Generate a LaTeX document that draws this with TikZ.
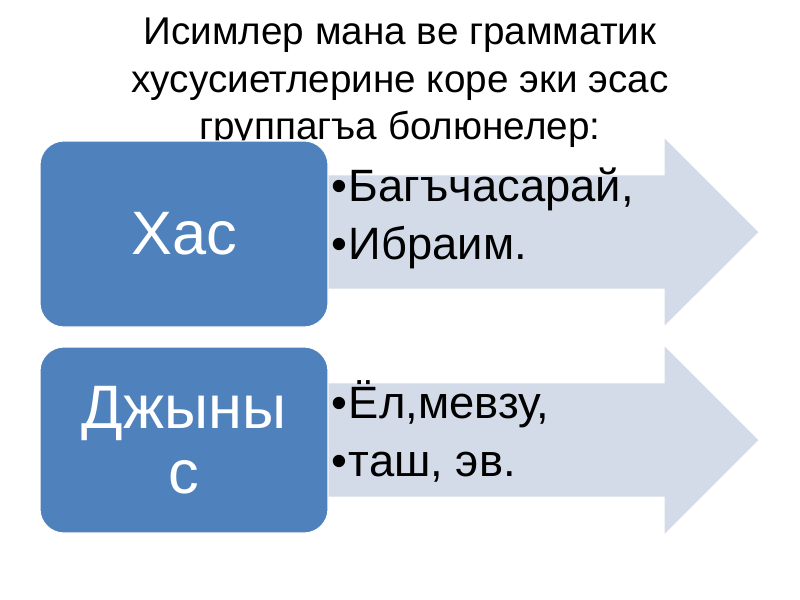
\documentclass[tikz,border=0pt]{standalone}
\usepackage{fontspec}
\setmainfont{Liberation Sans}
\usepackage{tikz}
\usetikzlibrary{shapes.arrows, positioning}
\definecolor{BoxBlue}{HTML}{4F81BD}
\definecolor{ArrowGrey}{HTML}{D3DAE8}

\begin{document}
\begin{tikzpicture}[
  x=0.75pt, y=-0.75pt,
  title/.style={align=center, font=\fontsize{29}{35.5}\selectfont},
  group/.style={
    draw=white, line width=0.8pt, fill=BoxBlue, rounded corners=18pt,
    minimum width=216pt, minimum height=139.5pt,
    text=white, align=center, font=\fontsize{46}{49}\selectfont
  },
  flow/.style={
    single arrow, fill=ArrowGrey, draw=white, line width=0.8pt,
    inner xsep=0pt, inner ysep=42.4pt, single arrow head extend=28.5pt,
    minimum height=432pt, anchor=tip
  },
  items/.style={anchor=west, align=left, font=\fontsize{34}{43.5}\selectfont}
]
\useasboundingbox (0,0) rectangle (800,600);

% Title
\node[title] (head) at (400,83) {Исимлер мана ве грамматик\\хусусиетлерине коре эки эсас\\группагъа болюнелер:};

% Arrows
\node[flow] (proper) at (760,232) {};
\node[flow] (common) at (760,440) {};

% Boxes
\node[group] (xas) at (184,234) {Хас};
\node[group] (dzhyn) at (184,440) {Джыны\\с};

% Examples
\node[items] (xaslist) at (327,218) {•\hspace{1pt}Багъчасарай,\\•\hspace{1pt}Ибраим.};
\node[items] (dzhynlist) at (327,431) {•\hspace{1pt}Ёл,мевзу,\\•\hspace{1pt}таш, эв.};

\end{tikzpicture}
\end{document}
